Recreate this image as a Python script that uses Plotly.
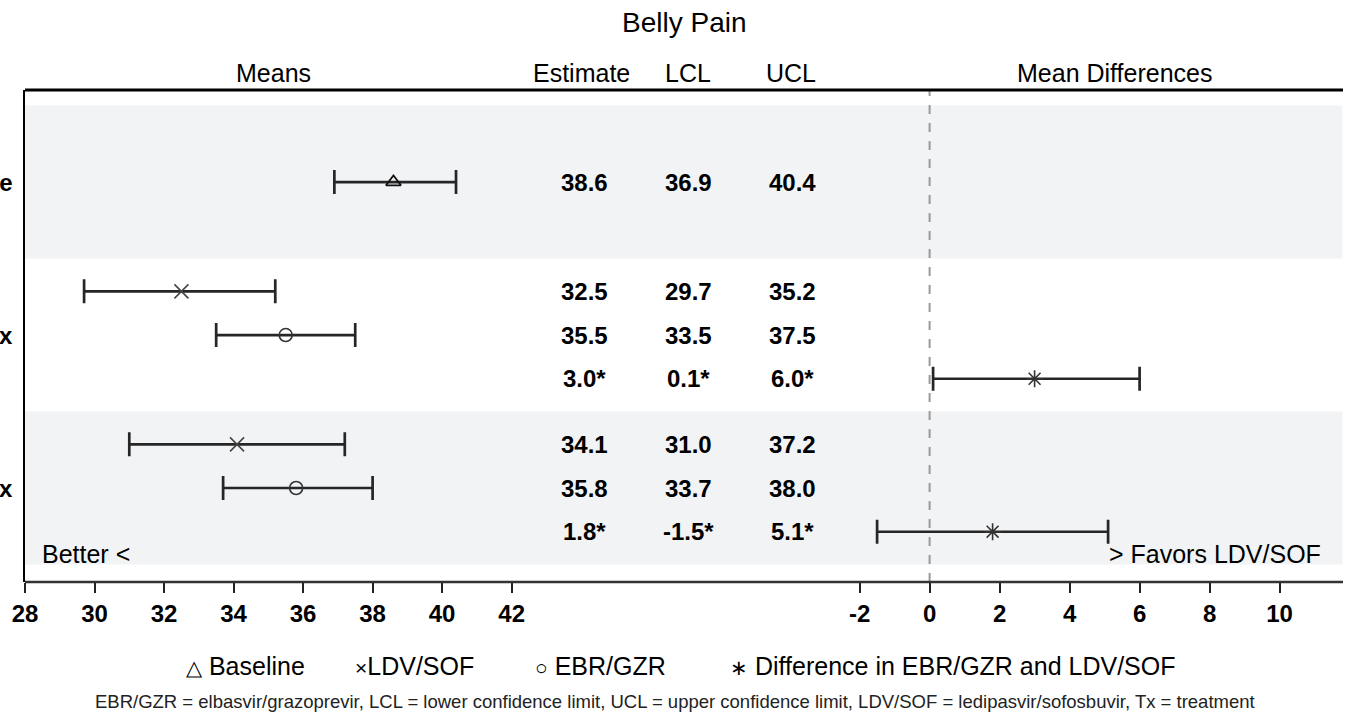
import plotly.graph_objects as go

# ---- data -------------------------------------------------------------
timepoints = ["Baseline", "Week 4 of Tx", "End of Tx"]

baseline_est = [38.6]
baseline_lcl = [36.9]
baseline_ucl = [40.4]

# LDV/SOF and EBR/GZR means at the two on-treatment time points
ldv_est = [32.5, 34.1]
ldv_lcl = [29.7, 31.0]
ldv_ucl = [35.2, 37.2]

ebr_est = [35.5, 35.8]
ebr_lcl = [33.5, 33.7]
ebr_ucl = [37.5, 38.0]

# EBR/GZR minus LDV/SOF
diff_est = [3.0, 1.8]
diff_lcl = [0.1, -1.5]
diff_ucl = [6.0, 5.1]

means_ticks = [28, 30, 32, 34, 36, 38, 40, 42]
diff_ticks = [-2, 0, 2, 4, 6, 8, 10]

# ---- geometry ---------------------------------------------------------
W, H = 1354, 714
ML, MR, MT, MB = 25, 11, 90, 132
PW = W - ML - MR
PH = H - MT - MB

FONT = "Liberation Sans, Arial, Helvetica, sans-serif"
PX_MEANS = 34.76       # pixels per unit on the means scale
PX_DIFF = 35.0         # pixels per unit on the difference scale
MEANS_DOM = (0.0, 0.40)
DIFF_DOM = (0.60, 1.0)
DIFF_ZERO_PX = 904.6   # pixel offset of 0 inside the plot area

means_range = [28, 28 + (MEANS_DOM[1] - MEANS_DOM[0]) * PW / PX_MEANS]
diff_left_px = DIFF_DOM[0] * PW
diff_range = [-(DIFF_ZERO_PX - diff_left_px) / PX_DIFF, (PW - DIFF_ZERO_PX) / PX_DIFF]

BAND = 3.5
y_range = [10.90, -0.356]


def band_rows(k):
    return [BAND * k + 0.75 + j for j in range(3)]


base_y = [BAND / 2]
ldv_y = [band_rows(1)[0], band_rows(2)[0]]
ebr_y = [band_rows(1)[1], band_rows(2)[1]]
diff_y = [band_rows(1)[2], band_rows(2)[2]]


def err(est, lcl, ucl):
    return dict(type="data", symmetric=False,
                array=[u - e for e, u in zip(est, ucl)],
                arrayminus=[e - l for e, l in zip(est, lcl)],
                color="#262626", thickness=2.7, width=12)


fig = go.Figure()

fig.add_trace(go.Scatter(
    x=baseline_est, y=base_y, mode="markers", xaxis="x", yaxis="y",
    marker=dict(symbol="triangle-up-open", size=13, color="#111111", line=dict(width=1.8)),
    error_x=err(baseline_est, baseline_lcl, baseline_ucl), name="Baseline"))
fig.add_trace(go.Scatter(
    x=ldv_est, y=ldv_y, mode="markers", xaxis="x", yaxis="y",
    marker=dict(symbol="x-thin-open", size=14, color="#444444", line=dict(width=1.6, color="#444444")),
    error_x=err(ldv_est, ldv_lcl, ldv_ucl), name="LDV/SOF"))
fig.add_trace(go.Scatter(
    x=ebr_est, y=ebr_y, mode="markers", xaxis="x", yaxis="y",
    marker=dict(symbol="circle-open", size=13, color="#333333", line=dict(width=1.6)),
    error_x=err(ebr_est, ebr_lcl, ebr_ucl), name="EBR/GZR"))
fig.add_trace(go.Scatter(
    x=diff_est, y=diff_y, mode="markers", xaxis="x2", yaxis="y",
    marker=dict(symbol="asterisk-open", size=14, color="#333333", line=dict(width=1.6, color="#333333")),
    error_x=err(diff_est, diff_lcl, diff_ucl), name="Difference"))

shapes = []
# alternating row bands
for k in (0, 2):
    shapes.append(dict(type="rect", xref="paper", yref="y", x0=0, x1=0.9995,
                       y0=BAND * k, y1=BAND * (k + 1), fillcolor="#f2f3f5",
                       line=dict(width=0), layer="below"))
# zero reference on the difference scale
shapes.append(dict(type="line", xref="x2", yref="paper", x0=0, x1=0, y0=0, y1=1,
                   line=dict(color="#999999", width=2, dash="dash"), layer="below"))
# frame: top rule and bottom axis rule
shapes.append(dict(type="line", xref="paper", yref="paper", x0=0, x1=1, y0=1, y1=1,
                   line=dict(color="#000000", width=3)))
shapes.append(dict(type="line", xref="paper", yref="paper", x0=0, x1=1, y0=0, y1=0,
                   line=dict(color="#333333", width=2.5)))

ann = []


def px_x(px):
    return (px - ML) / PW


def px_y(py):
    return (MT + PH - py) / PH


ann.append(dict(text="Belly Pain", x=0.5, y=px_y(22), font=dict(size=28)))
for label, cx in [("Means", 273), ("Estimate", 581), ("LCL", 688), ("UCL", 791),
                  ("Mean Differences", 1114)]:
    ann.append(dict(text=label, x=px_x(cx), y=px_y(73), font=dict(size=25)))

# table of estimates and confidence limits
col_px = [584, 688, 792]
table_rows = [(base_y[0], baseline_est[0], baseline_lcl[0], baseline_ucl[0], "")]
for i in range(2):
    table_rows.append((ldv_y[i], ldv_est[i], ldv_lcl[i], ldv_ucl[i], ""))
    table_rows.append((ebr_y[i], ebr_est[i], ebr_lcl[i], ebr_ucl[i], ""))
    table_rows.append((diff_y[i], diff_est[i], diff_lcl[i], diff_ucl[i], "*"))
for yv, e, l, u, mark in table_rows:
    for cx, v in zip(col_px, (e, l, u)):
        ann.append(dict(text=f"{v:.1f}{mark}", x=px_x(cx), yref="y", y=yv,
                        font=dict(size=24, weight="bold")))

# time point labels
for label, yv in zip(timepoints, [base_y[0], ebr_y[0], ebr_y[1]]):
    ann.append(dict(text=label, x=0, xanchor="right", xshift=-10, yref="y", y=yv,
                    font=dict(size=24, weight="bold")))

ann.append(dict(text="Better <", x=0, xanchor="left", xshift=15, y=px_y(554),
                font=dict(size=25)))
ann.append(dict(text="> Favors LDV/SOF", x=px_x(1323), xanchor="right", y=px_y(554),
                font=dict(size=25)))

# legend key
for sym, label, left in [("△", " Baseline", 184), ("×", "LDV/SOF", 353),
                         ("○", " EBR/GZR", 533), ("∗", " Difference in EBR/GZR and LDV/SOF", 728)]:
    ann.append(dict(text=f"<span style='font-size:21px'>{sym}</span>{label}",
                    x=px_x(left), xanchor="left", y=px_y(666), font=dict(size=25)))

ann.append(dict(text="EBR/GZR = elbasvir/grazoprevir, LCL = lower confidence limit, "
                     "UCL = upper confidence limit, LDV/SOF = ledipasvir/sofosbuvir, Tx = treatment",
                x=px_x(675), y=px_y(701), font=dict(size=18.5, color="#222222")))

for a in ann:
    a.setdefault("xref", "paper")
    a.setdefault("yref", "paper")
    a.setdefault("showarrow", False)
    a.setdefault("xanchor", "center")
    a.setdefault("yanchor", "middle")
    f = a.setdefault("font", {})
    f.setdefault("family", FONT)
    f.setdefault("color", "#000000")

axis_common = dict(showgrid=False, zeroline=False, showline=False, ticks="outside",
                   ticklen=10, tickwidth=2, tickcolor="#222222",
                   tickfont=dict(family=FONT, size=24, weight="bold", color="#000000"))

fig.update_layout(
    width=W, height=H,
    margin=dict(l=ML, r=MR, t=MT, b=MB, pad=0),
    paper_bgcolor="white", plot_bgcolor="white",
    showlegend=False,
    xaxis=dict(domain=list(MEANS_DOM), range=means_range, tickvals=means_ticks,
               ticktext=[str(t) for t in means_ticks], anchor="y", **axis_common),
    xaxis2=dict(domain=list(DIFF_DOM), range=diff_range, tickvals=diff_ticks,
                ticktext=[str(t) for t in diff_ticks], anchor="y", **axis_common),
    yaxis=dict(range=y_range, showticklabels=False, showgrid=False, zeroline=False,
               showline=True, linecolor="#000000", linewidth=2, ticks=""),
    shapes=shapes,
    annotations=ann,
)

fig.write_html("out.html")
